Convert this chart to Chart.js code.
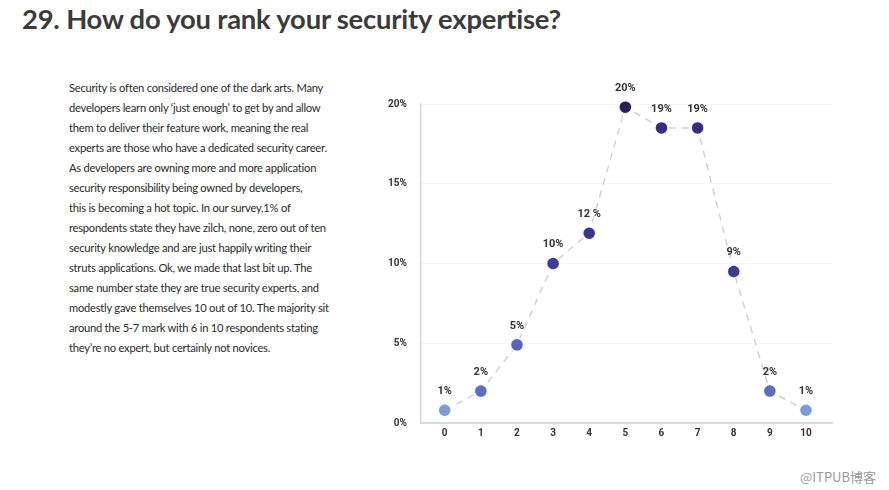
<!DOCTYPE html>
<html>
<head>
<meta charset="utf-8">
<script src="https://cdn.jsdelivr.net/npm/chart.js@4.4.0/dist/chart.umd.min.js"></script>
<style>
  html, body { margin: 0; padding: 0; background: #fff; }
  body { width: 889px; height: 490px; position: relative; overflow: hidden; font-family: Lato, sans-serif; }
  h1 { position: absolute; left: 22px; top: 2px; margin: 0; font-size: 27.4px; font-weight: 700; color: #3b3b3b; letter-spacing: -0.2px; }
  .texto { position: absolute; left: 69px; top: 78px; width: 300px; font-size: 11.2px; line-height: 20px; color: #2a2a2a; letter-spacing: -0.25px; }
  .marca { position: absolute; left: 800px; top: 467px; font-size: 13px; color: #9a9a9a; font-family: "Noto Sans CJK SC", sans-serif; }
  .chart-container { position: absolute; left: 370px; top: 76px; width: 480px; height: 367px; }
</style>
</head>
<body>
<h1>29. How do you rank your security expertise?</h1>
<div class="texto">
Security is often considered one of the dark arts. Many<br>
developers learn only ‘just enough’ to get by and allow<br>
them to deliver their feature work, meaning the real<br>
experts are those who have a dedicated security career.<br>
As developers are owning more and more application<br>
security responsibility being owned by developers,<br>
this is becoming a hot topic. In our survey,1% of<br>
respondents state they have zilch, none, zero out of ten<br>
security knowledge and are just happily writing their<br>
struts applications. Ok, we made that last bit up. The<br>
same number state they are true security experts, and<br>
modestly gave themselves 10 out of 10. The majority sit<br>
around the 5-7 mark with 6 in 10 respondents stating<br>
they’re no expert, but certainly not novices.
</div>
<div class="chart-container"><canvas id="graficoLinha"></canvas></div>
<div class="marca">@ITPUB博客</div>
<script>
// Dados
const notas = [0, 1, 2, 3, 4, 5, 6, 7, 8, 9, 10];
const percentuais = [0.8, 2, 4.9, 10, 11.9, 19.8, 18.5, 18.5, 9.5, 2, 0.8];
const rotulos = ['1%', '2%', '5%', '10%', '12 %', '20%', '19%', '19%', '9%', '2%', '1%'];
const coresPontos = ['#7b9dd6', '#5a6fbf', '#5366bb', '#363f9c', '#39368f', '#2d1b5f', '#3a2987', '#3a2987', '#353c9a', '#5a6fbf', '#7b9dd6'];
const ticksY = [0, 5, 10, 15, 20];

// Plugin para escrever os rótulos acima dos pontos
const rotulosPlugin = {
    id: 'rotulos',
    afterDatasetsDraw(chart) {
        const ctx = chart.ctx;
        const meta = chart.getDatasetMeta(0);
        ctx.save();
        ctx.font = 'bold 11px Roboto, sans-serif';
        ctx.fillStyle = '#333';
        ctx.textAlign = 'center';
        ctx.textBaseline = 'middle';
        meta.data.forEach((pt, i) => {
            ctx.fillText(rotulos[i], pt.x, pt.y - 19);
        });
        ctx.restore();
    }
};

const ctx = document.getElementById('graficoLinha');
new Chart(ctx, {
    type: 'line',
    data: {
        datasets: [{
            data: notas.map((n, i) => ({ x: n, y: percentuais[i] })),
            borderColor: '#d2d2d2',
            borderWidth: 1.5,
            borderDash: [7, 6],
            pointRadius: 6.5,
            pointHoverRadius: 6.5,
            pointBackgroundColor: coresPontos,
            pointBorderColor: 'rgba(255,255,255,0.9)',
            pointBorderWidth: 1.5,
            clip: false,
            tension: 0
        }]
    },
    options: {
        responsive: true,
        maintainAspectRatio: false,
        animation: false,
        layout: { padding: { left: 4, right: 18, top: 28, bottom: 0 } },
        plugins: {
            legend: { display: false },
            tooltip: { enabled: false }
        },
        scales: {
            x: {
                type: 'linear',
                min: -0.66,
                max: 10.72,
                afterBuildTicks: function(axis) {
                    axis.ticks = notas.map(v => ({ value: v }));
                },
                ticks: {
                    padding: 4,
                    color: '#333',
                    font: { family: 'Roboto, sans-serif', size: 10, weight: 'bold' }
                },
                grid: { display: false, drawTicks: false },
                border: { color: '#d9d9d9', width: 2 }
            },
            y: {
                min: 0,
                max: 20,
                afterBuildTicks: function(axis) {
                    axis.ticks = ticksY.map(v => ({ value: v }));
                },
                ticks: {
                    padding: 14,
                    color: '#333',
                    font: { family: 'Roboto, sans-serif', size: 10, weight: 'bold' },
                    callback: function(value) { return value + '%'; }
                },
                grid: { color: 'rgba(0,0,0,0.03)', drawTicks: false },
                border: { color: '#d9d9d9', width: 1.5 }
            }
        }
    },
    plugins: [rotulosPlugin]
});
</script>
</body>
</html>
